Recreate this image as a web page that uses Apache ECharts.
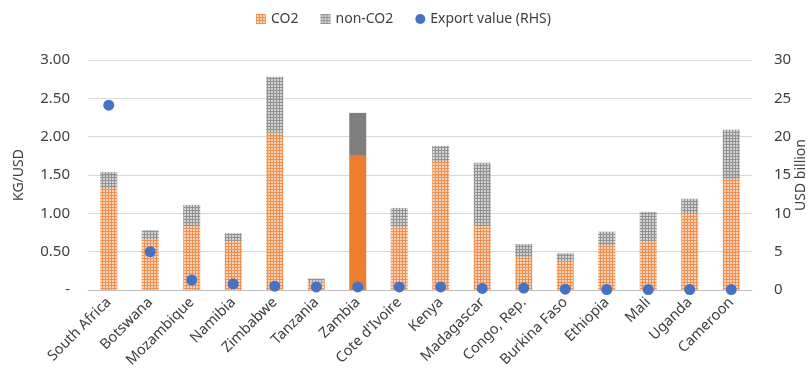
<!DOCTYPE html>
<html>
<head>
<meta charset="utf-8">
<script src="https://cdn.jsdelivr.net/npm/echarts@6/dist/echarts.min.js"></script>
<style>
  html, body { margin: 0; padding: 0; background: #fff; }
  #chart { width: 807px; height: 381px; }
</style>
</head>
<body>
<div id="chart"></div>
<script>
// Emission intensity by country (kg per USD of exports) and export value
const categories = ['South Africa', 'Botswana', 'Mozambique', 'Namibia', 'Zimbabwe', 'Tanzania',
  'Zambia', "Cote d'Ivoire", 'Kenya', 'Madagascar', 'Congo, Rep.', 'Burkina Faso',
  'Ethiopia', 'Mali', 'Uganda', 'Cameroon'];
const co2 =    [1.33, 0.66, 0.83, 0.64, 2.05, 0.10, 1.75, 0.82, 1.67, 0.83, 0.43, 0.38, 0.58, 0.64, 1.00, 1.45];
const nonCo2 = [0.21, 0.12, 0.28, 0.10, 0.73, 0.05, 0.56, 0.25, 0.21, 0.83, 0.17, 0.10, 0.18, 0.38, 0.19, 0.64];
const exportValue = [24.1, 5.0, 1.3, 0.8, 0.5, 0.4, 0.4, 0.4, 0.4, 0.2, 0.25, 0.1, 0.05, 0.05, 0.05, 0.05];
const leftTicks = { min: 0, max: 3, step: 0.5 };
const rightTicks = { min: 0, max: 30, step: 5 };
const highlighted = 'Zambia';

const ORANGE = '#ED7D31';
const GREY = '#7F7F7F';
const BLUE = '#4472C4';
const FONT = 'Noto Sans';

// Small dotted fill pattern: colour grid with see-through holes
function dotted(color) {
  const c = document.createElement('canvas');
  c.width = 3; c.height = 3;
  const g = c.getContext('2d');
  g.fillStyle = color;
  g.globalAlpha = 0.85;
  g.fillRect(0, 0, 3, 1);
  g.fillRect(0, 1, 1, 2);
  g.globalAlpha = 0.35;
  g.fillRect(1, 1, 2, 2);
  return { image: c, repeat: 'repeat' };
}

function barData(values, solid) {
  return values.map((v, i) => categories[i] === highlighted
    ? { value: v, itemStyle: { color: solid } }
    : v);
}

const chart = echarts.init(document.getElementById('chart'), null, { renderer: 'canvas' });
chart.setOption({
  animation: false,
  textStyle: { fontFamily: FONT, color: '#595959' },
  legend: {
    top: 7,
    left: 'center',
    itemWidth: 10,
    itemHeight: 10,
    itemGap: 22,
    textStyle: { fontFamily: FONT, fontSize: 14, color: '#404040' },
    data: [
      { name: 'CO2', icon: 'rect' },
      { name: 'non-CO2', icon: 'rect' },
      { name: 'Export value (RHS)', icon: 'circle' }
    ]
  },
  grid: { left: 88, right: 55, top: 60, bottom: 91, containLabel: false, outerBoundsMode: 'none' },
  xAxis: {
    type: 'category',
    data: categories,
    axisTick: { show: false },
    axisLine: { lineStyle: { color: '#bfbfbf', width: 1 } },
    axisLabel: { rotate: 45, fontSize: 14.5, color: '#404040', margin: 10, interval: 0, fontFamily: FONT }
  },
  yAxis: [
    {
      type: 'value',
      min: leftTicks.min, max: leftTicks.max, interval: leftTicks.step,
      name: 'KG/USD',
      nameLocation: 'middle',
      nameGap: 62,
      nameMoveOverlap: false,
      nameTextStyle: { fontSize: 14, color: '#404040', fontFamily: FONT },
      axisLine: { show: false },
      axisTick: { show: false },
      splitLine: { lineStyle: { color: '#d9d9d9', width: 1 } },
      axisLabel: {
        fontSize: 15, color: '#404040', margin: 18, fontFamily: FONT,
        formatter: v => (v === 0 ? '-' : v.toFixed(2))
      }
    },
    {
      type: 'value',
      min: rightTicks.min, max: rightTicks.max, interval: rightTicks.step,
      name: 'USD billion',
      nameLocation: 'middle',
      nameGap: 42,
      nameMoveOverlap: false,
      nameTextStyle: { fontSize: 14, color: '#404040', fontFamily: FONT },
      axisLine: { show: false },
      axisTick: { show: false },
      splitLine: { show: false },
      axisLabel: { fontSize: 15, color: '#404040', margin: 22, fontFamily: FONT }
    }
  ],
  series: [
    {
      name: 'CO2',
      type: 'bar',
      stack: 'intensity',
      barWidth: 17,
      itemStyle: { color: dotted(ORANGE) },
      data: barData(co2, ORANGE)
    },
    {
      name: 'non-CO2',
      type: 'bar',
      stack: 'intensity',
      barWidth: 17,
      itemStyle: { color: dotted(GREY) },
      data: barData(nonCo2, GREY)
    },
    {
      name: 'Export value (RHS)',
      type: 'scatter',
      yAxisIndex: 1,
      symbol: 'circle',
      symbolSize: 11,
      itemStyle: { color: BLUE, opacity: 1 },
      data: exportValue,
      z: 5
    }
  ]
});
</script>
</body>
</html>
